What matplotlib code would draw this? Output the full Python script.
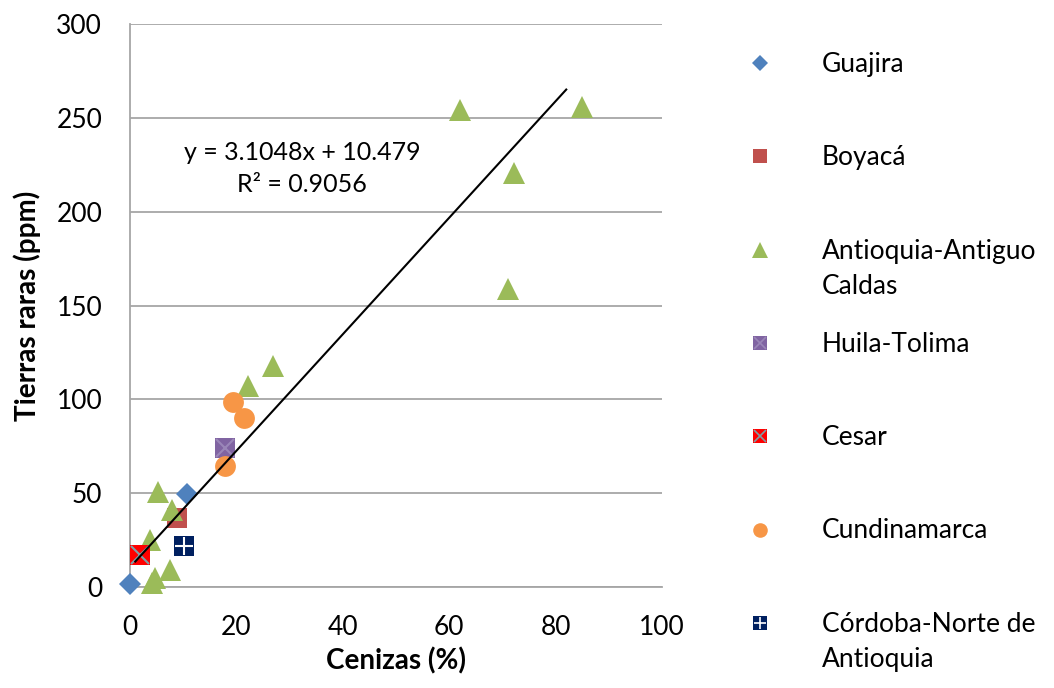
import matplotlib.pyplot as plt

plt.rcParams['font.family'] = ['Lato', 'DejaVu Sans']

# data
guajira_x = [0.0, 10.7]
guajira_y = [1.6, 49.5]

boyaca_x = [8.8]
boyaca_y = [36.8]

antioquia_x = [62.0, 85.0, 72.2, 71.0, 26.9, 22.2, 5.3, 7.9, 3.8, 7.5, 4.1, 4.7]
antioquia_y = [254, 256, 220.6, 159, 117.7, 107, 50.6, 41, 25, 9, 2, 5]

huila_x = [17.9]
huila_y = [74]

cesar_x = [1.9]
cesar_y = [17]

cundinamarca_x = [19.4, 21.4, 17.9]
cundinamarca_y = [98.6, 90, 64.5]

cordoba_x = [10.2]
cordoba_y = [21.8]

slope = 3.1048
intercept = 10.479
r2 = 0.9056
trend_x = [1.0, 82.0]

series_names = ['Guajira', 'Boyacá', 'Antioquia-Antiguo\nCaldas', 'Huila-Tolima',
                'Cesar', 'Cundinamarca', 'Córdoba-Norte de\nAntioquia']

grid_col = '#a6a6a6'

fig = plt.figure(figsize=(10.54, 6.88), dpi=100)
ax = fig.add_axes([130 / 1054, 1 - 587 / 688, 532 / 1054, 563 / 688])

# marker styles: (marker, face, size, overlay marker, overlay colour)
styles = [
    ('D', '#4f81bd', 11, None, None),
    ('s', '#c0504d', 14, None, None),
    ('^', '#9bbb59', 16, None, None),
    ('s', '#8064a2', 14, 'x', '#9a86b8'),
    ('s', '#ff0000', 14, 'x', '#7f9fa6'),
    ('o', '#f79646', 15, None, None),
    ('s', '#002060', 14, '+', 'white'),
]
data = [(guajira_x, guajira_y), (boyaca_x, boyaca_y), (antioquia_x, antioquia_y),
        (huila_x, huila_y), (cesar_x, cesar_y), (cundinamarca_x, cundinamarca_y),
        (cordoba_x, cordoba_y)]

for (xs, ys), (mk, col, ms, over, ocol) in zip(data, styles):
    ax.plot(xs, ys, linestyle='none', marker=mk, color=col, markersize=ms,
            markeredgewidth=0, zorder=3, clip_on=False)
    if over:
        ax.plot(xs, ys, linestyle='none', marker=over, color=ocol, markersize=ms * 0.9,
                markeredgewidth=1.5, zorder=4, clip_on=False)

ty = [slope * v + intercept for v in trend_x]
ax.plot(trend_x, ty, color='black', linewidth=1.5, zorder=5)
ax.text(32.3, 223, f'y = {slope}x + {intercept}\nR² = {r2}', ha='center', va='center',
        fontsize=18, linespacing=1.45)

ax.set_xlim(0, 100)
ax.set_ylim(0, 300)
ax.set_xticks(range(0, 101, 20))
ax.set_yticks(range(0, 301, 50))
ax.yaxis.grid(True, color=grid_col, linewidth=1.3)
ax.set_axisbelow(True)
for s in ['top', 'right']:
    ax.spines[s].set_visible(False)
for s in ['left', 'bottom']:
    ax.spines[s].set_color(grid_col)
    ax.spines[s].set_linewidth(1.3)
ax.tick_params(axis='x', length=0, labelsize=19, pad=20)
ax.tick_params(axis='y', length=0, labelsize=19, pad=20)
ax.set_xlabel('Cenizas (%)', fontsize=20, fontweight='bold')
ax.set_ylabel('Tierras raras (ppm)', fontsize=20, fontweight='bold')
ax.xaxis.set_label_coords(0.5, -0.108)
ax.yaxis.set_label_coords(-0.168, 0.5)

# legend drawn in pixel coordinates of the figure
lax = fig.add_axes([0, 0, 1, 1])
lax.set_xlim(0, 1054)
lax.set_ylim(688, 0)
lax.axis('off')
for i, (name, (mk, col, ms, over, ocol)) in enumerate(zip(series_names, styles)):
    yy = 63 + i * 93.3
    lms = ms * 0.7
    lax.plot([760], [yy], linestyle='none', marker=mk, color=col, markersize=lms,
             markeredgewidth=0)
    if over:
        lax.plot([760], [yy], linestyle='none', marker=over, color=ocol,
                 markersize=lms * 0.9, markeredgewidth=1.2)
    for k, line in enumerate(name.split('\n')):
        lax.text(822, yy + 9 + k * 35, line, ha='left', va='baseline', fontsize=19)

fig.savefig('out.png', dpi=100)
